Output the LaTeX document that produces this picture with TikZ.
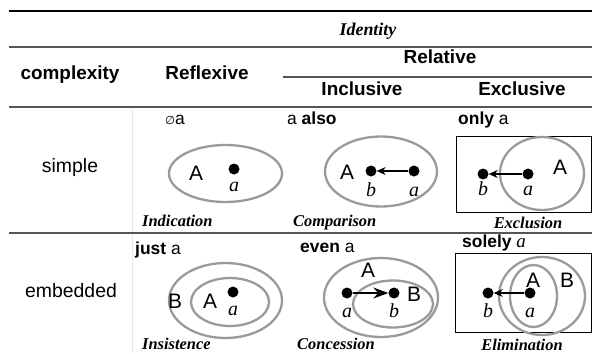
\documentclass[tikz,border=0pt]{standalone}
\usepackage{fontspec}
\setmainfont{Liberation Serif}
\setsansfont{Liberation Sans}
\newfontfamily\symfont{DejaVu Sans}
\usetikzlibrary{shapes.geometric,arrows.meta}
\definecolor{setgray}{HTML}{9A9A9A}
\definecolor{rulegray}{HTML}{555555}
\definecolor{faint}{HTML}{E8E8E8}
\begin{document}
\begin{tikzpicture}[x=1bp,y=-1bp,
  hdr/.style={font=\sffamily\bfseries\fontsize{19}{21}\selectfont, anchor=mid, inner sep=0},
  rowlab/.style={font=\sffamily\fontsize{19.5}{21}\selectfont, anchor=mid, inner sep=0},
  cue/.style={font=\sffamily\fontsize{17.5}{19}\selectfont, anchor=mid west, inner sep=0},
  setname/.style={font=\sffamily\fontsize{21}{23}\selectfont, inner sep=0},
  var/.style={font=\itshape\fontsize{20}{22}\selectfont, anchor=base, inner sep=0},
  term/.style={font=\bfseries\itshape\fontsize{16.5}{18}\selectfont, inner sep=0},
  setshape/.style={ellipse, draw=setgray, line width=2.3bp, inner sep=0},
  dot/.style={circle, fill=black, minimum size=11bp, inner sep=0},
  arr/.style={-{Stealth[length=9bp,width=8bp]}, line width=1.1bp},
  bigarr/.style={-{Stealth[length=15bp,width=11bp]}, line width=1.4bp},
  thinrule/.style={draw=rulegray, line width=1.1bp},
  frame/.style={draw=black, line width=1.2bp}
]
\useasboundingbox (0,0) rectangle (592,353);
% rules
\coordinate (r0l) at (9,11);   \coordinate (r0r) at (592,11);
\coordinate (r1l) at (9,47);   \coordinate (r1r) at (592,47);
\coordinate (r2l) at (283,77); \coordinate (r2r) at (592,77);
\coordinate (r3l) at (9,107);  \coordinate (r3r) at (592,107);
\coordinate (r4l) at (9,233);  \coordinate (r4r) at (592,233);
\coordinate (vt) at (132,107); \coordinate (vb) at (132,353);
\draw[faint, line width=0.8bp] (vt) -- (vb);
\draw[black, line width=2.2bp] (r0l) -- (r0r);
\draw[thinrule] (r1l) -- (r1r);
\draw[thinrule] (r2l) -- (r2r);
\draw[thinrule] (r3l) -- (r3r);
\draw[thinrule] (r4l) -- (r4r);
% headers
\node[font=\bfseries\itshape\fontsize{18}{20}\selectfont, anchor=mid, inner sep=0] (identity) at (368,33) {Identity};
\node[hdr] (complexity) at (70,77) {complexity};
\node[hdr] (reflexive) at (207,77) {Reflexive};
\node[hdr] (relative) at (440,61) {Relative};
\node[hdr] (inclusive) at (362,93) {Inclusive};
\node[hdr] (exclusive) at (522,93) {Exclusive};
% row labels
\node[rowlab] (simple) at (70,170) {simple};
\node[rowlab] (embedded) at (71,295) {embedded};

% ---------- simple / reflexive
\node[cue] (c1) at (165,122) {{\symfont\fontsize{11.5}{12}\selectfont ∅}a};
\node[setshape, minimum width=113bp, minimum height=57bp] (e1) at (225.5,173.5) {};
\node[setname] (e1A) at (196,173) {A};
\node[dot] (e1a) at (234,169) {};
\node[var] (e1al) at (234,191) {a};
\node[term, anchor=mid west] (t1) at (142,224) {Indication};

% ---------- simple / inclusive
\node[cue] (c2) at (287,122) {a \textbf{also}};
\node[setshape, minimum width=112bp, minimum height=70bp] (e2) at (381,171.5) {};
\node[setname] (e2A) at (347,172) {A};
\node[dot] (e2b) at (371,171) {};
\node[dot] (e2a) at (414,171) {};
\draw[arr] (e2a) -- (e2b);
\node[var] (e2bl) at (371,196) {b};
\node[var] (e2al) at (414,196) {a};
\node[term, anchor=mid west] (t2) at (293,224) {Comparison};

% ---------- simple / exclusive
\node[cue] (c3) at (458,122) {\textbf{only} a};
\node[frame, minimum width=135.5bp, minimum height=76bp, inner sep=0, anchor=north west] (f1) at (455.5,136) {};
\node[setshape, minimum width=84bp, minimum height=73bp] (e3) at (542,173.5) {};
\node[setname] (e3A) at (560,167) {A};
\node[dot] (e3b) at (483,174) {};
\node[dot] (e3a) at (528,174) {};
\draw[arr] (e3a) -- (e3b);
\node[var] (e3bl) at (483,195.5) {b};
\node[var] (e3al) at (528,195.5) {a};
\node[term] (t3) at (528,222.5) {Exclusion};

% ---------- embedded / reflexive
\node[cue] (c4) at (135,252) {\textbf{just} a};
\node[setshape, minimum width=113bp, minimum height=75bp] (e4B) at (225.5,300.5) {};
\node[setshape, minimum width=78bp, minimum height=48bp] (e4A) at (230,302) {};
\node[setname] (e4Bl) at (175,301) {B};
\node[setname] (e4Al) at (210,301) {A};
\node[dot] (e4a) at (233,292) {};
\node[var] (e4al) at (233,315.5) {a};
\node[term, anchor=mid west] (t4) at (142,347) {Insistence};

% ---------- embedded / inclusive
\node[cue] (c5) at (300,250) {\textbf{even} a};
\node[setshape, minimum width=114bp, minimum height=79bp] (e5A) at (381,297.5) {};
\node[setshape, minimum width=80bp, minimum height=47bp] (e5B) at (393,304) {};
\node[setname] (e5Al) at (368,270) {A};
\node[setname] (e5Bl) at (414,294) {B};
\node[dot] (e5a) at (347,293) {};
\node[dot] (e5b) at (394,293) {};
\draw[bigarr] (e5a) -- (e5b);
\node[var] (e5al) at (347,317.5) {a};
\node[var] (e5bl) at (394,317.5) {b};
\node[term, anchor=mid west] (t5) at (297,347) {Concession};

% ---------- embedded / exclusive
\node[cue] (c6) at (462,245) {\textbf{solely} {\rmfamily\itshape\fontsize{19}{20}\selectfont a}};
\node[frame, minimum width=136.5bp, minimum height=79bp, inner sep=0, anchor=north west] (f2) at (454.5,253) {};
\node[setshape, minimum width=86bp, minimum height=78bp] (e6B) at (542,296) {};
\node[setshape, minimum width=47bp, minimum height=62bp] (e6A) at (533.5,296) {};
\node[setname] (e6Al) at (533,280) {A};
\node[setname] (e6Bl) at (567,280) {B};
\node[dot] (e6b) at (488,293) {};
\node[dot] (e6a) at (530,293) {};
\draw[arr] (e6a) -- (e6b);
\node[var] (e6bl) at (488,317.5) {b};
\node[var] (e6al) at (530,317.5) {a};
\node[term] (t6) at (522,345) {Elimination};
\end{tikzpicture}
\end{document}
